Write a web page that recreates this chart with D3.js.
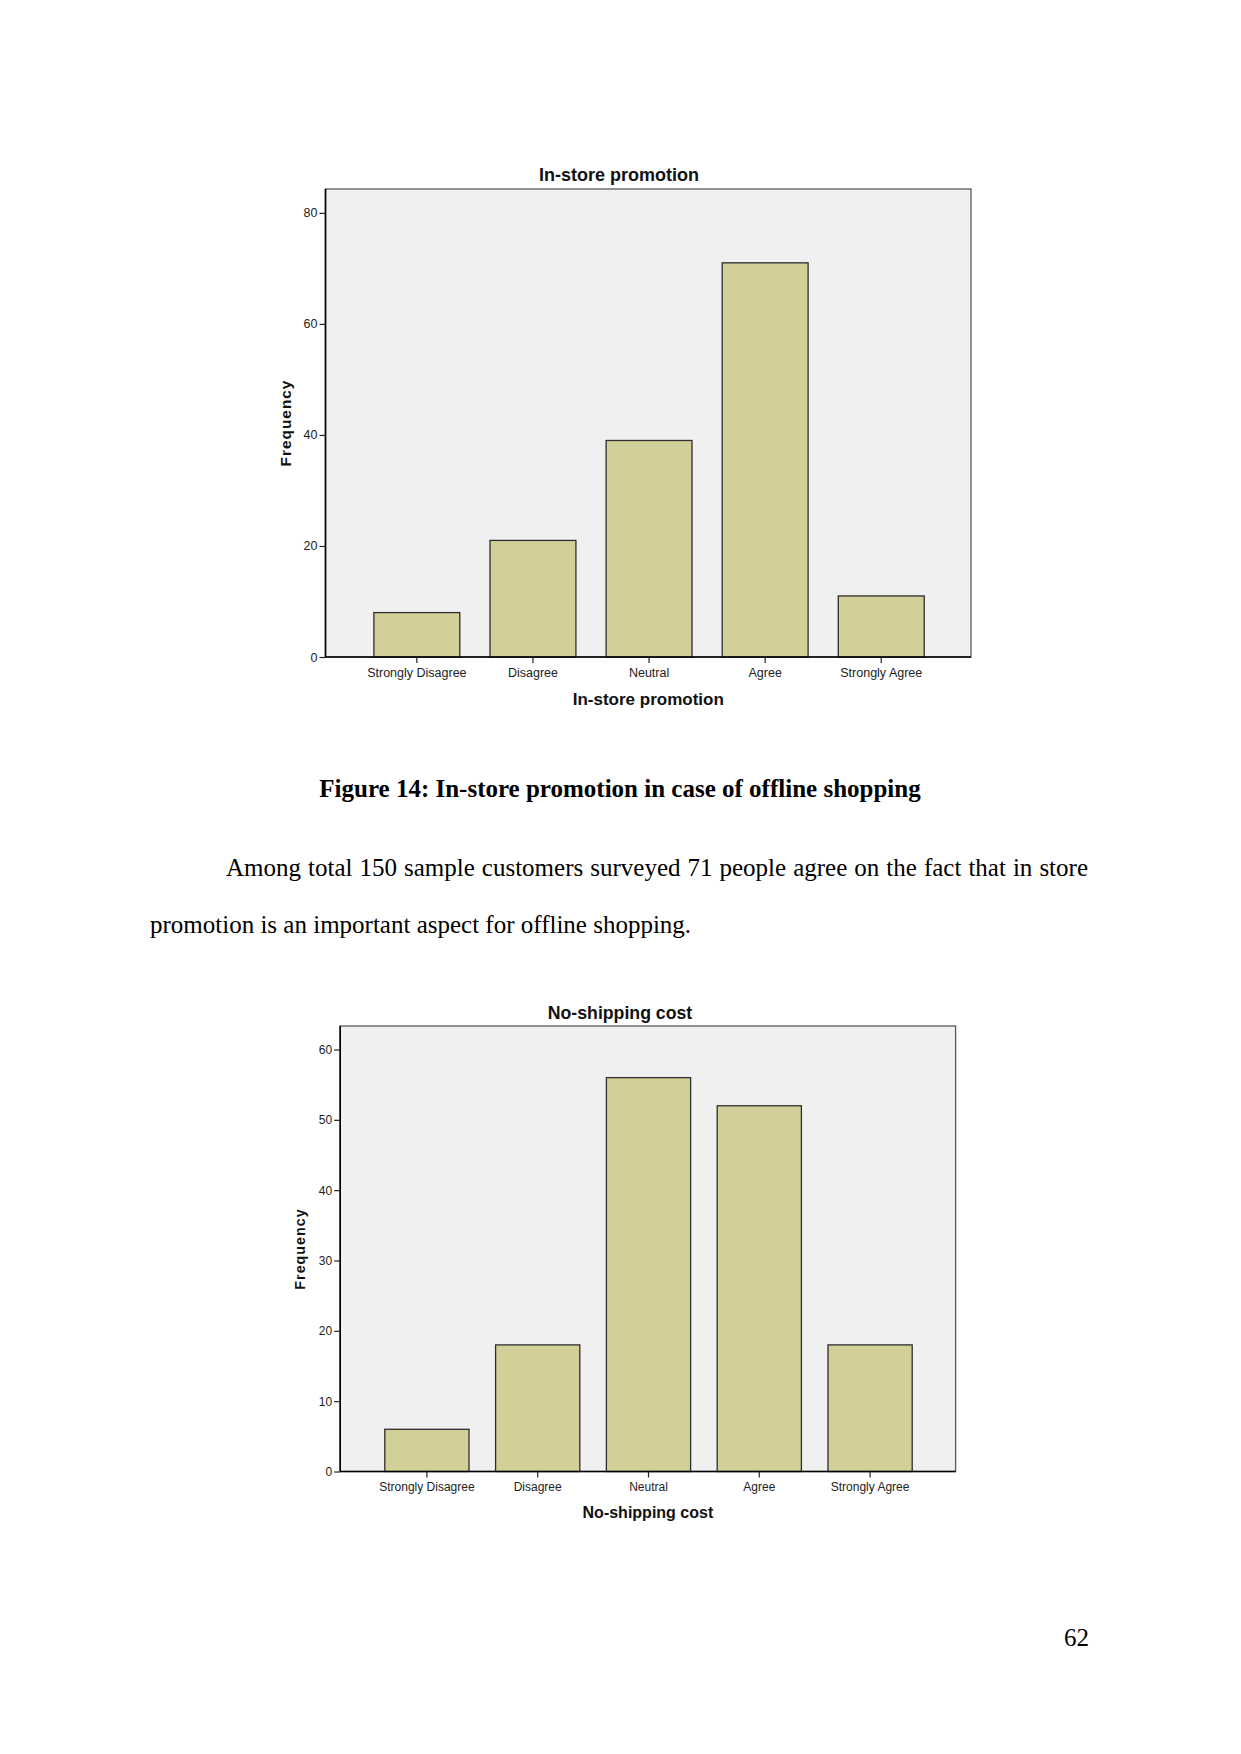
<!DOCTYPE html>
<html>
<head>
<meta charset="utf-8">
<script src="https://cdn.jsdelivr.net/npm/d3@7"></script>
<style>
  html, body { margin: 0; padding: 0; background: #fff; }
  svg { display: block; }
</style>
</head>
<body>
<svg id="page" width="1241" height="1754"></svg>
<script>
// ---- data ----
const categories = ["Strongly Disagree", "Disagree", "Neutral", "Agree", "Strongly Agree"];
const promotionValues = [8, 21, 39, 71, 11];
const shippingValues = [6, 18, 56, 52, 18];
const promotionTicks = [0, 20, 40, 60, 80];
const shippingTicks = [0, 10, 20, 30, 40, 50, 60];
const chartTitles = ["In-store promotion", "No-shipping cost"];
const yAxisLabel = "Frequency";
const captionText = "Figure 14: In-store promotion in case of offline shopping";
const bodyLines = [
  "Among total 150 sample customers surveyed 71 people agree on the fact that in store",
  "promotion is an important aspect for offline shopping."
];
const pageNumber = "62";

const svg = d3.select("#page");
const SANS = "'Liberation Sans', Arial, sans-serif";
const SERIF = "'Liberation Serif', 'Times New Roman', serif";

function drawChart(values, ticks, title, o) {
  const g = svg.append("g");
  const y = d3.scaleLinear().domain([0, o.yMax]).range([o.bottom, o.top]);
  const x = d3.scaleBand().domain(categories).range([o.bandL, o.bandR])
    .paddingInner(o.pad).paddingOuter(o.pad / 2);

  // plot background frame
  g.append("rect")
    .attr("x", o.left).attr("y", o.top)
    .attr("width", o.right - o.left).attr("height", o.bottom - o.top)
    .attr("fill", "#f0f0f0").attr("stroke", "#5a5a5a").attr("stroke-width", 1.3);

  // bars
  g.selectAll("rect.bar").data(values).enter().append("rect")
    .attr("class", "bar")
    .attr("x", (d, i) => x(categories[i]))
    .attr("y", d => y(d))
    .attr("width", x.bandwidth())
    .attr("height", d => y(0) - y(d))
    .attr("fill", "#d3cf98")
    .attr("stroke", "#2e2e2e").attr("stroke-width", 1.3);

  // y axis
  const yAxis = d3.axisLeft(y).tickValues(ticks).tickSize(6).tickSizeOuter(0).tickPadding(2);
  const ya = g.append("g").attr("transform", `translate(${o.left},0)`).call(yAxis);
  ya.select(".domain").attr("stroke", "#000").attr("stroke-width", 1.6)
    .attr("d", `M0,${o.top}V${o.bottom}`);
  ya.selectAll(".tick line").attr("stroke", "#222").attr("stroke-width", 1.2);
  ya.selectAll(".tick text").attr("font-family", SANS).attr("font-size", o.tickFs).attr("fill", "#222");

  // x axis
  const xAxis = d3.axisBottom(x).tickSize(6).tickSizeOuter(0).tickPadding(5);
  const xa = g.append("g").attr("transform", `translate(0,${o.bottom})`).call(xAxis);
  xa.select(".domain").attr("stroke", "#000").attr("stroke-width", 1.6)
    .attr("d", `M${o.left},0H${o.right}`);
  xa.selectAll(".tick line").attr("stroke", "#222").attr("stroke-width", 1.2);
  xa.selectAll(".tick text").attr("font-family", SANS).attr("font-size", o.catFs).attr("fill", "#222");

  // title
  g.append("text").attr("x", o.titleX).attr("y", o.titleY)
    .attr("text-anchor", "middle").attr("font-family", SANS).attr("font-weight", "bold")
    .attr("font-size", o.titleFs).attr("fill", "#111").text(title);

  // x label
  g.append("text").attr("x", (o.left + o.right) / 2).attr("y", o.xLabY)
    .attr("text-anchor", "middle").attr("font-family", SANS).attr("font-weight", "bold")
    .attr("font-size", o.xLabFs).attr("fill", "#111").text(title);

  // y label
  g.append("text")
    .attr("transform", `translate(${o.yLabX},${o.yLabY}) rotate(-90)`)
    .attr("text-anchor", "middle").attr("font-family", SANS).attr("font-weight", "bold")
    .attr("font-size", o.yLabFs).attr("letter-spacing", 1).attr("fill", "#111").text(yAxisLabel);
}

drawChart(promotionValues, promotionTicks, chartTitles[0], {
  left: 325.5, right: 971, top: 189, bottom: 657, yMax: 84.3,
  bandL: 358.8, bandR: 939.3, pad: 0.26,
  tickFs: 12.5, catFs: 12.5, titleFs: 18, titleX: 619, titleY: 181,
  xLabFs: 17, xLabY: 705, yLabFs: 15.4, yLabX: 291, yLabY: 423
});

drawChart(shippingValues, shippingTicks, chartTitles[1], {
  left: 340.2, right: 955.6, top: 1026, bottom: 1471.5, yMax: 63.34,
  bandL: 371.5, bandR: 925.5, pad: 0.24,
  tickFs: 12, catFs: 12, titleFs: 17.7, titleX: 620, titleY: 1019,
  xLabFs: 16, xLabY: 1518, yLabFs: 14.3, yLabX: 305, yLabY: 1249
});

// caption
svg.append("text").attr("x", 620).attr("y", 797)
  .attr("text-anchor", "middle").attr("font-family", SERIF).attr("font-weight", "bold")
  .attr("font-size", 25).attr("fill", "#000").text(captionText);

// body text (first line justified)
function justifiedLine(text, x0, x1, yb) {
  const words = text.split(" ");
  const tmp = svg.append("g").attr("font-family", SERIF).attr("font-size", 25);
  const widths = words.map(w => tmp.append("text").text(w).node().getComputedTextLength());
  tmp.remove();
  const total = d3.sum(widths);
  const gap = (x1 - x0 - total) / (words.length - 1);
  let x = x0;
  const g = svg.append("g").attr("font-family", SERIF).attr("font-size", 25).attr("fill", "#000");
  words.forEach((w, i) => {
    g.append("text").attr("x", x).attr("y", yb).text(w);
    x += widths[i] + gap;
  });
}
justifiedLine(bodyLines[0], 226, 1088, 876);
svg.append("text").attr("x", 150).attr("y", 933)
  .attr("font-family", SERIF).attr("font-size", 25).attr("fill", "#000").text(bodyLines[1]);

// page number
svg.append("text").attr("x", 1089).attr("y", 1646).attr("text-anchor", "end")
  .attr("font-family", SERIF).attr("font-size", 25).attr("fill", "#000").text(pageNumber);
</script>
</body>
</html>
